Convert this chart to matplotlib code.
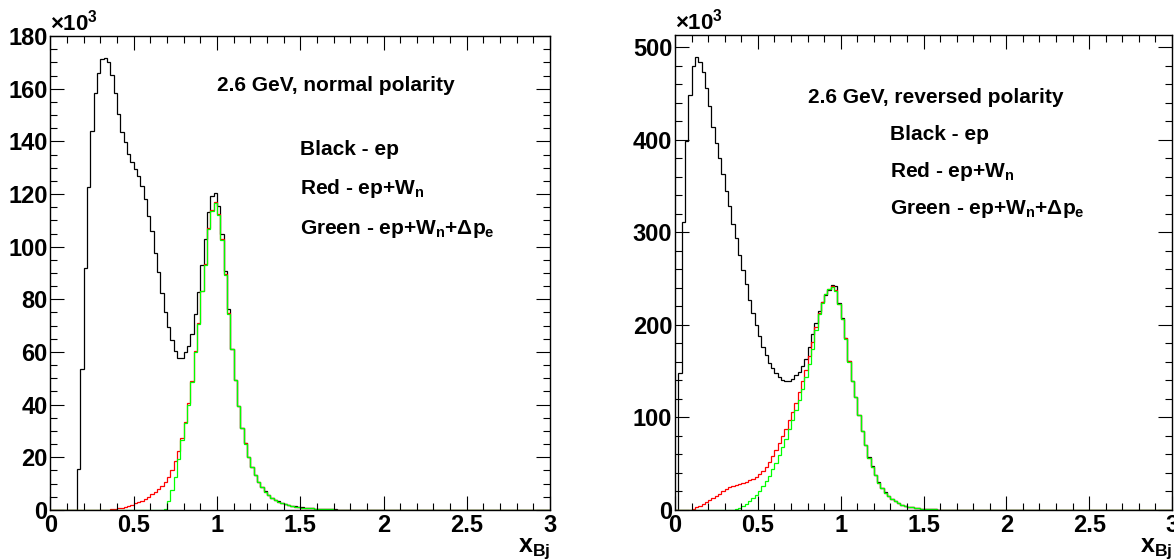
import matplotlib.pyplot as plt
from matplotlib.ticker import MultipleLocator, FuncFormatter
import numpy as np

plt.rcParams['font.family'] = ['Liberation Sans', 'DejaVu Sans']
plt.rcParams['font.weight'] = 'bold'
plt.rcParams['mathtext.fontset'] = 'custom'
plt.rcParams['mathtext.rm'] = 'Liberation Sans:bold'
plt.rcParams['mathtext.it'] = 'Liberation Sans:bold'
plt.rcParams['mathtext.bf'] = 'Liberation Sans:bold'

# histogram binning: 150 bins over x_Bj in [0, 3]
n_bins = 150
x_min, x_max = 0.0, 3.0

# --- 2.6 GeV, normal polarity (counts in units of 10^3), bins from x=0 ---
normal_black = [
    0, 0, 0, 0, 0, 0, 0, 0, 15.5, 53.4,
    91.8, 122.8, 144.0, 158.2, 166.1, 171.2, 171.7, 170.1, 165.3, 158.2,
    150.4, 143.5, 139.6, 135.1, 132.2, 129.5, 126.7, 123.0, 118.0, 111.6,
    105.9, 97.5, 90.5, 82.3, 75.3, 69.5, 64.4, 60.4, 57.9, 57.9,
    60.0, 62.3, 66.7, 74.5, 82.6, 92.9, 103.0, 113.1, 119.2, 120.3,
    115.6, 104.7, 90.7, 76.2, 61.3, 49.5, 39.6, 31.2, 25.4, 20.2,
    16.5, 13.2, 10.7, 8.7, 7.1, 5.7, 4.7, 3.9, 3.3, 2.7,
    2.3, 1.9, 1.6, 1.35, 1.15, 0.95, 0.8, 0.7, 0.6, 0.5,
    0.42, 0.36, 0.3, 0.26, 0.22, 0.19, 0.16, 0.14, 0.12, 0.1,
    0.09, 0.08, 0.07, 0.06, 0.05, 0.04, 0.03, 0.02, 0.02, 0.01,
]
normal_red = [
    0, 0, 0, 0, 0, 0, 0, 0, 0, 0,
    0, 0, 0, 0, 0, 0.05, 0.1, 0.15, 0.25, 0.4,
    0.6, 0.9, 1.2, 1.6, 2.0, 2.5, 3.0, 3.6, 4.2, 5.0,
    5.9, 6.9, 8.0, 9.3, 10.8, 12.5, 15.0, 18.5, 22.5, 27.5,
    33.5, 40.5, 49.0, 60.3, 71.0, 83.2, 93.4, 107.0, 113.8, 116.8,
    112.3, 103.0, 89.7, 74.8, 61.2, 49.4, 39.5, 31.1, 25.3, 20.1,
    16.4, 13.1, 10.6, 8.6, 7.0, 5.6, 4.6, 3.8, 3.2, 2.6,
    2.2, 1.8, 1.5, 1.3, 1.1, 0.9, 0.78, 0.68, 0.58, 0.48,
    0.4, 0.34, 0.29, 0.25, 0.21, 0.18, 0.15, 0.13, 0.11, 0.1,
    0.09, 0.08, 0.07, 0.06, 0.05, 0.04, 0.03, 0.02, 0.02, 0.01,
]
normal_green = [
    0, 0, 0, 0, 0, 0, 0, 0, 0, 0,
    0, 0, 0, 0, 0, 0, 0, 0, 0, 0,
    0, 0, 0, 0, 0, 0, 0, 0, 0, 0,
    0, 0, 0, 0, 0.5, 3.5, 7.7, 12.5, 19.5, 26.5,
    33.0, 40.0, 48.7, 60.0, 70.8, 83.0, 93.2, 106.8, 113.5, 116.5,
    112.0, 102.7, 89.4, 74.5, 61.0, 49.2, 39.4, 31.0, 25.2, 20.1,
    16.4, 13.1, 10.6, 8.6, 7.0, 5.6, 4.6, 3.8, 3.2, 2.6,
    2.2, 1.8, 1.5, 1.3, 1.1, 0.9, 0.78, 0.68, 0.58, 0.48,
    0.4, 0.34, 0.29, 0.25, 0.21, 0.18, 0.15, 0.13, 0.11, 0.1,
    0.09, 0.08, 0.07, 0.06, 0.05, 0.04, 0.03, 0.02, 0.02, 0.01,
]

# --- 2.6 GeV, reversed polarity (counts in units of 10^3) ---
reversed_black = [
    0, 147.5, 311.0, 399.0, 448.0, 480.0, 489.0, 484.0, 473.0, 456.0,
    436.0, 414.0, 396.5, 380.0, 362.5, 344.4, 327.8, 308.5, 294.2, 275.0,
    259.5, 244.0, 226.6, 213.1, 199.6, 188.0, 176.4, 167.6, 159.0, 153.3,
    147.5, 143.6, 140.9, 139.0, 139.0, 141.7, 145.6, 149.4, 155.2, 163.0,
    176.4, 190.0, 201.5, 215.0, 224.7, 232.0, 238.0, 243.0, 241.5, 223.5,
    207.5, 186.2, 161.2, 139.8, 122.4, 103.0, 85.7, 70.3, 56.8, 47.1,
    37.5, 29.7, 23.9, 18.9, 15.1, 12.0, 9.3, 7.3, 5.8, 4.6,
    3.7, 3.0, 2.4, 1.9, 1.5, 1.2, 1.0, 0.8, 0.65, 0.5,
    0.4, 0.32, 0.26, 0.2, 0.16, 0.13, 0.1, 0.08, 0.06, 0.05,
    0.04, 0.03, 0.02, 0.02, 0.01,
]
reversed_red = [
    0, 0, 0, 0, 0.5, 1.5, 3.0, 4.5, 6.5, 8.5,
    10.5, 12.5, 15.0, 17.5, 20.0, 22.5, 24.5, 26.0, 27.5, 28.5,
    29.5, 30.5, 32.0, 33.5, 35.5, 38.5, 42.0, 46.5, 52.0, 58.0,
    65.0, 72.0, 80.0, 88.0, 97.0, 106.0, 116.0, 127.0, 139.0, 151.0,
    166.0, 181.0, 198.0, 213.0, 224.5, 233.0, 239.0, 241.5, 238.0, 222.5,
    206.5, 185.5, 160.5, 139.3, 121.9, 102.8, 85.5, 70.1, 56.6, 46.9,
    37.4, 29.6, 23.8, 18.8, 15.0, 11.9, 9.2, 7.2, 5.7, 4.5,
    3.6, 2.9, 2.3, 1.8, 1.4, 1.1, 0.9, 0.7, 0.55, 0.45,
    0.35, 0.28, 0.22, 0.18, 0.14, 0.11, 0.09, 0.07, 0.05, 0.04,
    0.03, 0.02, 0.02, 0.01,
]
reversed_green = [
    0, 0, 0, 0, 0, 0, 0, 0, 0, 0,
    0, 0, 0, 0, 0, 0, 0, 0.3, 1.0, 2.2,
    4.0, 6.5, 9.5, 12.5, 16.0, 20.5, 25.5, 31.0, 37.0, 44.0,
    51.0, 59.0, 68.0, 77.0, 87.0, 97.0, 108.0, 119.0, 131.0, 144.0,
    158.0, 174.0, 194.0, 212.0, 224.0, 233.0, 239.0, 241.0, 237.0, 222.0,
    206.0, 185.0, 160.0, 139.0, 121.5, 102.5, 85.3, 70.0, 56.5, 46.8,
    37.3, 29.5, 23.7, 18.8, 15.0, 11.9, 9.2, 7.2, 5.7, 4.5,
    3.6, 2.9, 2.3, 1.8, 1.4, 1.1, 0.9, 0.7, 0.55, 0.45,
    0.35, 0.28, 0.22, 0.18, 0.14, 0.11, 0.09, 0.07, 0.05, 0.04,
    0.03, 0.02, 0.02, 0.01,
]

normal_text = ["2.6 GeV, normal polarity", "Black - ep",
               "Red - ep+W$_{\\mathrm{n}}$",
               "Green - ep+W$_{\\mathrm{n}}$+\u0394p$_{\\mathrm{e}}$"]
reversed_text = ["2.6 GeV, reversed polarity", "Black - ep",
                 "Red - ep+W$_{\\mathrm{n}}$",
                 "Green - ep+W$_{\\mathrm{n}}$+\u0394p$_{\\mathrm{e}}$"]


def full(vals):
    # bins not listed are empty
    return np.array(list(vals) + [0.0] * (n_bins - len(vals)))


def fmt(v, pos):
    return f"{v:g}"


def draw_panel(ax, black, red, green, ymax, ymajor, yminor, texts, title_pos, leg_x, leg_y):
    edges = np.linspace(x_min, x_max, n_bins + 1)
    ax.stairs(full(black), edges, color='black', lw=0.9, baseline=None)
    ax.stairs(full(red), edges, color='#ff0000', lw=0.9, baseline=None)
    ax.stairs(full(green), edges, color='#00ff00', lw=0.9, baseline=None)

    ax.set_xlim(x_min, x_max)
    ax.set_ylim(0, ymax)
    ax.xaxis.set_major_locator(MultipleLocator(0.5))
    ax.xaxis.set_minor_locator(MultipleLocator(0.1))
    ax.yaxis.set_major_locator(MultipleLocator(ymajor))
    ax.yaxis.set_minor_locator(MultipleLocator(yminor))
    ax.xaxis.set_major_formatter(FuncFormatter(fmt))
    ax.yaxis.set_major_formatter(FuncFormatter(fmt))
    ax.tick_params(which='both', direction='in', top=True, right=True, width=0.8)
    ax.tick_params(which='major', length=10, labelsize=17)
    ax.tick_params(which='minor', length=5)
    ax.tick_params(axis='x', pad=3)
    ax.tick_params(axis='y', pad=2)
    for s in ax.spines.values():
        s.set_linewidth(1.0)

    ax.text(title_pos[0], title_pos[1], texts[0], fontsize=15, fontweight='bold')
    for t, y in zip(texts[1:], leg_y):
        ax.text(leg_x, y, t, fontsize=15, fontweight='bold')

    ax.text(0.0, 1.012, "\u00d710$^{3}$", transform=ax.transAxes, fontsize=16,
            ha='left', va='baseline')
    ax.text(1.0, -0.088, "x$_{\\mathrm{Bj}}$", transform=ax.transAxes, fontsize=18,
            ha='right', va='baseline')


fig = plt.figure(figsize=(11.74, 5.6), dpi=100)
ax1 = fig.add_axes([0.043, 0.0893, 0.4255, 0.8464])
ax2 = fig.add_axes([0.575, 0.0893, 0.4233, 0.8482])

draw_panel(ax1, normal_black, normal_red, normal_green, 180, 20, 5,
           normal_text, (1.0, 159), 1.5, [135, 120, 105])
draw_panel(ax2, reversed_black, reversed_red, reversed_green, 513, 100, 20,
           reversed_text, (0.8, 440), 1.3, [400, 360, 320])

fig.savefig("out.png", dpi=100)
